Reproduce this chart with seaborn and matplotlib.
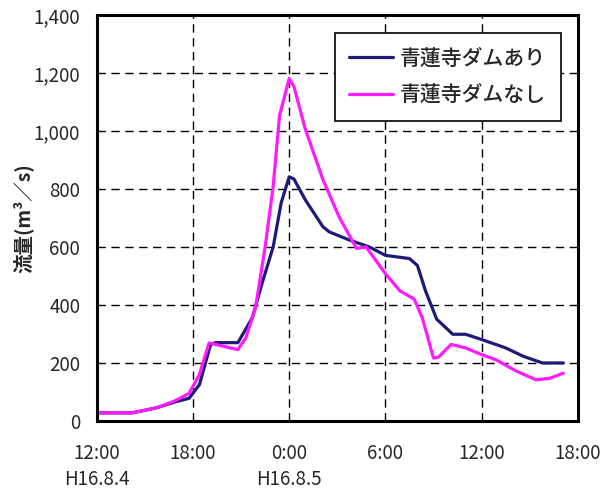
"""
Discharge hydrograph at Shorenji Dam, H16.8.4 - H16.8.5
with and without the dam.
"""

import matplotlib
matplotlib.use("Agg")
import matplotlib.pyplot as plt
import pandas as pd
import seaborn as sns

# hours elapsed since 12:00 on H16.8.4
hours_with = [0, 2.2, 3.7, 4.9, 5.75, 6.4, 7.1, 7.4, 8.8, 9.7, 10.3, 11.0,
              11.5, 12.0, 12.3, 13.0, 14.1, 14.5, 15.75, 17.0, 18.0, 19.5,
              20.0, 20.5, 21.2, 22.2, 23.0, 24.0, 25.5, 26.6, 27.8, 29.1]
flow_with = [28, 28, 45, 66, 78, 125, 264, 270, 270, 356, 473, 600,
             752, 842, 834, 763, 670, 652, 624, 600, 571, 560,
             536, 449, 351, 299, 299, 281, 252, 223, 200, 200]

hours_without = [0, 2.2, 3.7, 4.9, 5.75, 6.4, 7.0, 7.4, 8.8, 9.3, 9.9, 10.5,
                 11.0, 11.4, 12.0, 12.3, 13.0, 14.1, 15.1, 16.2, 16.8, 18.0,
                 18.9, 19.8, 20.3, 21.0, 21.3, 22.1, 23.0, 24.0, 24.9, 26.2,
                 27.4, 28.25, 29.1]
flow_without = [28, 28, 45, 70, 95, 160, 269, 264, 246, 287, 391, 600,
                809, 1053, 1181, 1152, 1007, 833, 705, 595, 600, 508,
                449, 420, 356, 217, 220, 264, 252, 229, 211, 171,
                142, 147, 165]

series_names = ["青蓮寺ダムあり", "青蓮寺ダムなし"]
series_colors = ["#1c1c78", "#ff1aff"]

x_ticks = [0, 6, 12, 18, 24, 30]
x_labels = ["12:00\nH16.8.4", "18:00", "0:00\nH16.8.5", "6:00", "12:00", "18:00"]
y_ticks = [0, 200, 400, 600, 800, 1000, 1200, 1400]


def main():
    df = pd.concat([
        pd.DataFrame({"hour": hours_with, "flow": flow_with,
                      "case": series_names[0]}),
        pd.DataFrame({"hour": hours_without, "flow": flow_without,
                      "case": series_names[1]}),
    ], ignore_index=True)

    sns.set_style("white")
    plt.rcParams["font.family"] = ["Noto Sans CJK JP", "DejaVu Sans"]

    fig = plt.figure(figsize=(6.05, 4.91), dpi=100)
    ax = fig.add_axes([0.160, 0.1426, 0.795, 0.827])

    sns.lineplot(data=df, x="hour", y="flow", hue="case", sort=False,
                 estimator=None, palette=dict(zip(series_names, series_colors)),
                 linewidth=2.3, ax=ax)

    ax.set_xlim(0, 30)
    ax.set_ylim(0, 1400)
    ax.set_xticks(x_ticks)
    ax.set_xticklabels(x_labels, fontsize=13.5, linespacing=1.3)
    ax.set_yticks(y_ticks)
    ax.set_yticklabels([f"{v:,}" for v in y_ticks], fontsize=13.5)
    ax.tick_params(axis="y", direction="in", length=4, width=1,
                   color="black", pad=12)
    ax.tick_params(axis="x", direction="in", length=0, pad=16)
    ax.set_xlabel("")
    ax.set_ylabel("流量(m³／s)", fontsize=14, fontweight="bold", labelpad=0)

    ax.grid(True, color="black", linestyle=(0, (6, 4)), linewidth=1)
    for side in ax.spines.values():
        side.set_color("black")
        side.set_linewidth(2.2)

    ax.legend(loc="upper right", bbox_to_anchor=(0.965, 0.956),
              borderaxespad=0, frameon=True, fancybox=False,
              edgecolor="black", framealpha=1, handlelength=2.1,
              handletextpad=0.35, labelspacing=0.7, borderpad=0.7,
              prop={"weight": "medium", "size": 15})
    ax.get_legend().get_frame().set_linewidth(1.2)

    fig.savefig("out.png", dpi=100)
    plt.close(fig)


if __name__ == "__main__":
    main()
